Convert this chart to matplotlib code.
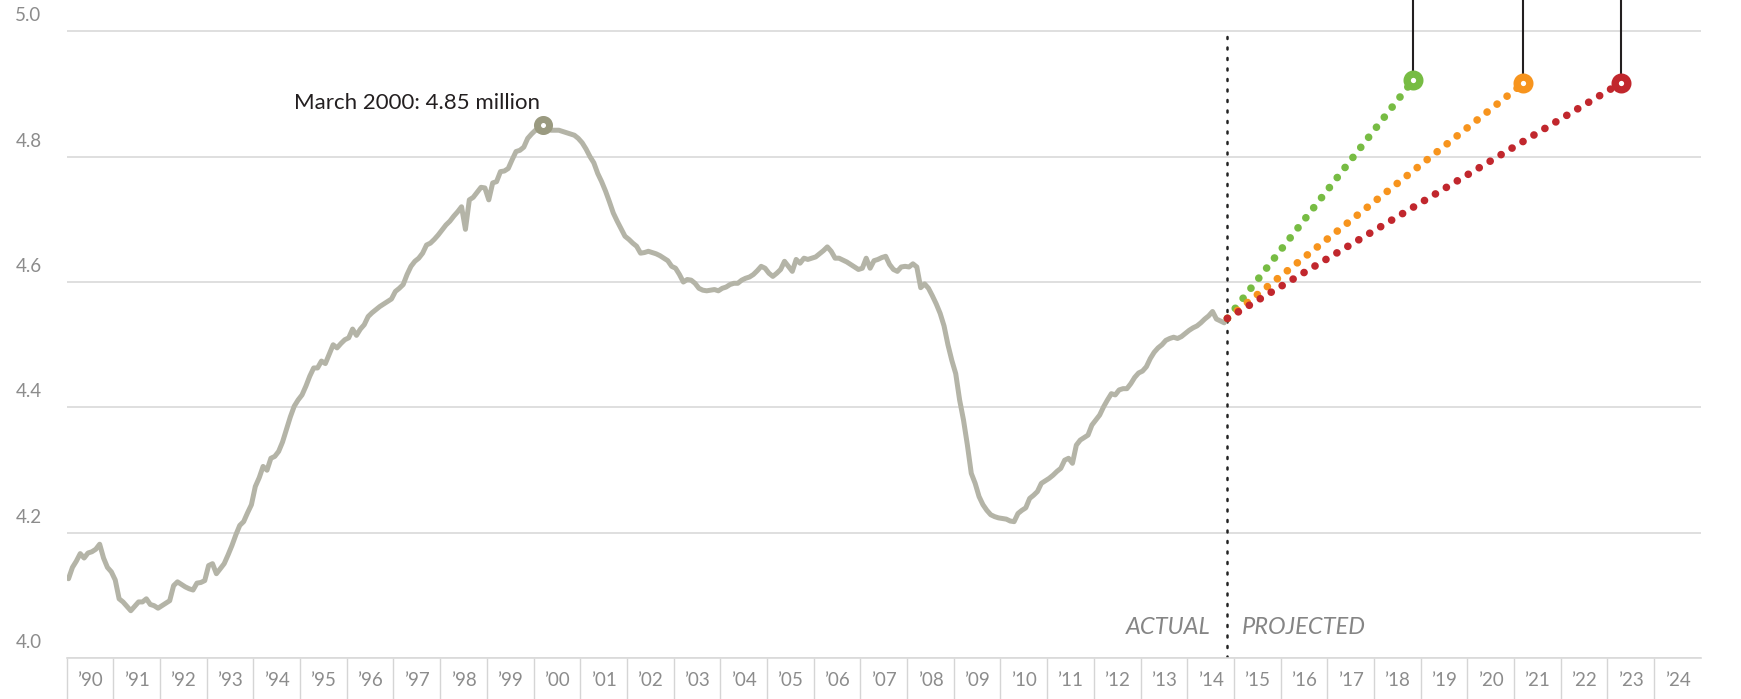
import numpy as np
import matplotlib
matplotlib.use("Agg")
import matplotlib.pyplot as plt
from matplotlib.transforms import ScaledTranslation

plt.rcParams['font.family'] = ['Lato', 'DejaVu Sans']

# Monthly values (millions)
emp_1990s = [
    4.127, 4.145, 4.155, 4.167, 4.160, 4.168, 4.170, 4.174, 4.182, 4.160, 4.145, 4.138,  # 1990
    4.125, 4.095, 4.090, 4.083, 4.076, 4.083, 4.090, 4.090, 4.095, 4.086, 4.084, 4.080,  # 1991
    4.084, 4.088, 4.092, 4.116, 4.122, 4.118, 4.114, 4.111, 4.109, 4.120, 4.121, 4.124,  # 1992
    4.148, 4.151, 4.135, 4.143, 4.151, 4.165, 4.180, 4.197, 4.212, 4.218, 4.232, 4.245,  # 1993
    4.274, 4.288, 4.306, 4.300, 4.319, 4.322, 4.330, 4.345, 4.365, 4.385, 4.402, 4.412,  # 1994
    4.420, 4.434, 4.450, 4.463, 4.463, 4.474, 4.470, 4.485, 4.500, 4.495, 4.502, 4.508,  # 1995
    4.511, 4.525, 4.515, 4.525, 4.532, 4.545, 4.551, 4.556, 4.561, 4.565, 4.569, 4.573,  # 1996
    4.585, 4.590, 4.596, 4.612, 4.625, 4.633, 4.638, 4.646, 4.659, 4.662, 4.668, 4.675,  # 1997
    4.683, 4.691, 4.697, 4.705, 4.712, 4.720, 4.684, 4.731, 4.735, 4.743, 4.751, 4.750,  # 1998
    4.731, 4.758, 4.760, 4.776, 4.777, 4.781, 4.795, 4.808, 4.810, 4.815, 4.829, 4.836,  # 1999
]
emp_2000s = [
    4.842, 4.842, 4.850, 4.845, 4.842, 4.842, 4.842, 4.840, 4.838, 4.836, 4.834, 4.829,  # 2000
    4.822, 4.812, 4.800, 4.790, 4.773, 4.760, 4.745, 4.728, 4.710, 4.697, 4.685, 4.673,  # 2001
    4.668, 4.662, 4.657, 4.646, 4.647, 4.649, 4.647, 4.645, 4.642, 4.638, 4.634, 4.625,  # 2002
    4.622, 4.612, 4.600, 4.604, 4.603, 4.598, 4.590, 4.587, 4.586, 4.587, 4.588, 4.586,  # 2003
    4.590, 4.592, 4.596, 4.598, 4.598, 4.603, 4.606, 4.608, 4.612, 4.618, 4.625, 4.622,  # 2004
    4.614, 4.609, 4.614, 4.620, 4.633, 4.625, 4.617, 4.636, 4.630, 4.638, 4.636, 4.638,  # 2005
    4.640, 4.645, 4.650, 4.656, 4.649, 4.638, 4.638, 4.635, 4.632, 4.628, 4.624, 4.620,  # 2006
    4.622, 4.638, 4.622, 4.634, 4.636, 4.639, 4.641, 4.628, 4.620, 4.617, 4.624, 4.625,  # 2007
    4.624, 4.629, 4.624, 4.591, 4.597, 4.590, 4.578, 4.565, 4.550, 4.530, 4.500, 4.475,  # 2008
    4.454, 4.412, 4.380, 4.340, 4.295, 4.279, 4.258, 4.245, 4.236, 4.229, 4.226, 4.224,  # 2009
]
emp_2010s = [
    4.223, 4.222, 4.219, 4.218, 4.231, 4.236, 4.240, 4.255, 4.260, 4.266, 4.279, 4.283,  # 2010
    4.287, 4.292, 4.298, 4.303, 4.316, 4.319, 4.311, 4.340, 4.348, 4.352, 4.356, 4.372,  # 2011
    4.380, 4.388, 4.401, 4.412, 4.422, 4.420, 4.428, 4.430, 4.430, 4.438, 4.448, 4.455,  # 2012
    4.458, 4.465, 4.478, 4.488, 4.495, 4.500, 4.507, 4.510, 4.512, 4.510, 4.513, 4.518,  # 2013
    4.523, 4.527, 4.530, 4.535, 4.541, 4.546, 4.553, 4.541, 4.538, 4.535,                # 2014
]

peak_year, peak_value = 2000.21, 4.85
peak_label = "March 2000: 4.85 million"

# projections start where the actual data ends
proj_start_year, proj_start_value = 2014.86, 4.542
proj_end_years = [2018.84, 2021.20, 2023.28]
proj_end_values = [4.922, 4.917, 4.917]
proj_colors = ['#77bc43', '#f7941d', '#c1272d']

y_ticks = [4.0, 4.2, 4.4, 4.6, 4.8, 5.0]
y_labels = ['4.0', '4.2', '4.4', '4.6', '4.8', '5.0']
years = list(range(1990, 2025))
year_labels = ['\u2019' + str(y)[2:] for y in years]

emp = np.array(emp_1990s + emp_2000s + emp_2010s)
t = 1990 + (np.arange(len(emp)) + 0.5) / 12

fig = plt.figure(figsize=(17.41, 6.99), dpi=100)
ax = fig.add_axes([0.03825, 0.0581, 0.9387, 0.9419])
ax.set_xlim(1990, 2025)
ax.set_ylim(4.0, 5.0496)

for side in ['top', 'right', 'left']:
    ax.spines[side].set_visible(False)
ax.spines['bottom'].set_color('#d9d9d9')
ax.spines['bottom'].set_linewidth(1.2)

# y axis: labels sit above their gridlines
ax.set_yticks(y_ticks)
ax.set_yticklabels(y_labels)
ax.tick_params(axis='y', length=0, pad=18, labelsize=13.5, labelcolor='#8c8c8c')
ax.grid(axis='y', color='#d9d9d9', lw=1.2)
ax.set_axisbelow(True)
shift = ScaledTranslation(0, 0.17, fig.dpi_scale_trans)
for lab in ax.get_yticklabels():
    lab.set_transform(lab.get_transform() + shift)

# x axis: year cells with separators
ax.set_xticks(years)
ax.set_xticklabels([])
ax.set_xticks(np.array(years) + 0.5, minor=True)
ax.set_xticklabels(year_labels, minor=True)
ax.tick_params(axis='x', which='major', length=29.5, width=1, color='#d5d5d5')
ax.tick_params(axis='x', which='minor', length=0, pad=10, labelsize=13.5, labelcolor='#8c8c8c')

# actual series
ax.plot(t, emp, color='#b4b4a7', lw=3.6, solid_joinstyle='round', solid_capstyle='round', zorder=3)
ax.plot(peak_year, peak_value, 'o', ms=8.7, mew=5, mfc='white', mec='#9a9a80', zorder=4)
ax.text(peak_year - 0.08, 4.885, peak_label, ha='right', va='center', fontsize=16, color='#231f20')

# actual / projected divider
ax.plot([proj_start_year, proj_start_year], [4.0, 5.0], color='#222222', lw=1.8,
        linestyle=(0, (0.8, 3.4)), dash_capstyle='round', zorder=2)
ax.text(proj_start_year - 0.36, 4.05, 'ACTUAL', ha='right', va='center',
        style='italic', fontsize=17, color='#858585')
ax.text(proj_start_year + 0.32, 4.05, 'PROJECTED', ha='left', va='center',
        style='italic', fontsize=17, color='#858585')

# projections
for x1, y1, c in zip(proj_end_years, proj_end_values, proj_colors):
    ax.plot([x1, x1], [y1, 5.0496], color='#231f20', lw=1.5, zorder=4, clip_on=False)
    ax.plot([proj_start_year, x1], [proj_start_value, y1], color=c, lw=5.5,
            linestyle=(0, (0.01, 1.66)), dash_capstyle='round', zorder=5)
    ax.plot(x1, y1, 'o', ms=9.15, mew=5.25, mfc='white', mec=c, zorder=6)

fig.savefig('out.png', dpi=100)
